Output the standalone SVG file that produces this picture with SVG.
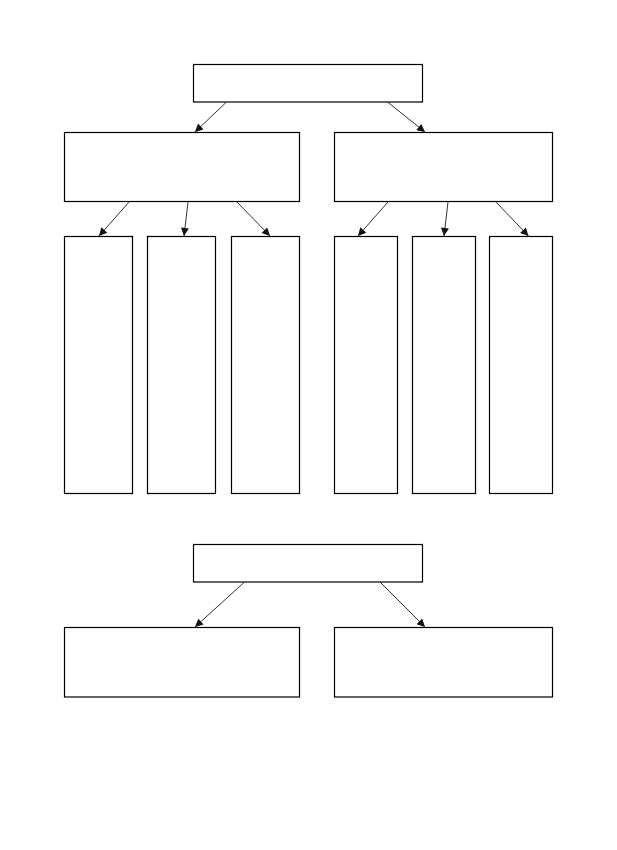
<svg xmlns="http://www.w3.org/2000/svg" width="617" height="850" viewBox="0 0 617 850">
<style>
.box{fill:#fff;stroke:#000;stroke-width:1.2}
.edge{stroke:#333;stroke-width:1;fill:none;marker-end:url(#ah)}
</style>
<defs>
<marker id="ah" viewBox="0 0 10 10" refX="10" refY="5" markerWidth="11" markerHeight="8" markerUnits="userSpaceOnUse" orient="auto">
<path d="M0,0 L10,5 L0,10 z" fill="#111"/>
</marker>
</defs>
<rect width="617" height="850" fill="#fff"/>
<g id="connectors">
<line class="edge" x1="226.5" y1="102" x2="195" y2="132"/>
<line class="edge" x1="387.5" y1="102" x2="425" y2="132"/>
<line class="edge" x1="129" y1="202" x2="99" y2="236"/>
<line class="edge" x1="188" y1="202" x2="184" y2="236"/>
<line class="edge" x1="237" y1="202" x2="270" y2="236"/>
<line class="edge" x1="388" y1="202" x2="358" y2="236"/>
<line class="edge" x1="448" y1="202" x2="444" y2="236"/>
<line class="edge" x1="496" y1="202" x2="528.5" y2="236"/>
<line class="edge" x1="244.5" y1="582" x2="195" y2="627"/>
<line class="edge" x1="380" y1="582" x2="425" y2="627"/>
</g>
<g id="root1"><rect class="box" x="193.5" y="64.5" width="229" height="37.5"/></g>
<g id="l2a"><rect class="box" x="64.5" y="132.5" width="235" height="69"/></g>
<g id="l2b"><rect class="box" x="334.5" y="132.5" width="218" height="69"/></g>
<g id="c1"><rect class="box" x="64.5" y="236.5" width="68" height="257"/></g>
<g id="c2"><rect class="box" x="147.5" y="236.5" width="68" height="257"/></g>
<g id="c3"><rect class="box" x="231.5" y="236.5" width="68" height="257"/></g>
<g id="c4"><rect class="box" x="334.5" y="236.5" width="63" height="257"/></g>
<g id="c5"><rect class="box" x="412.5" y="236.5" width="63" height="257"/></g>
<g id="c6"><rect class="box" x="489.5" y="236.5" width="63" height="257"/></g>
<g id="root2"><rect class="box" x="193.5" y="544.5" width="229" height="37.5"/></g>
<g id="b1"><rect class="box" x="64.5" y="627.5" width="235" height="69.5"/></g>
<g id="b2"><rect class="box" x="334.5" y="627.5" width="218" height="69.5"/></g>
</svg>
